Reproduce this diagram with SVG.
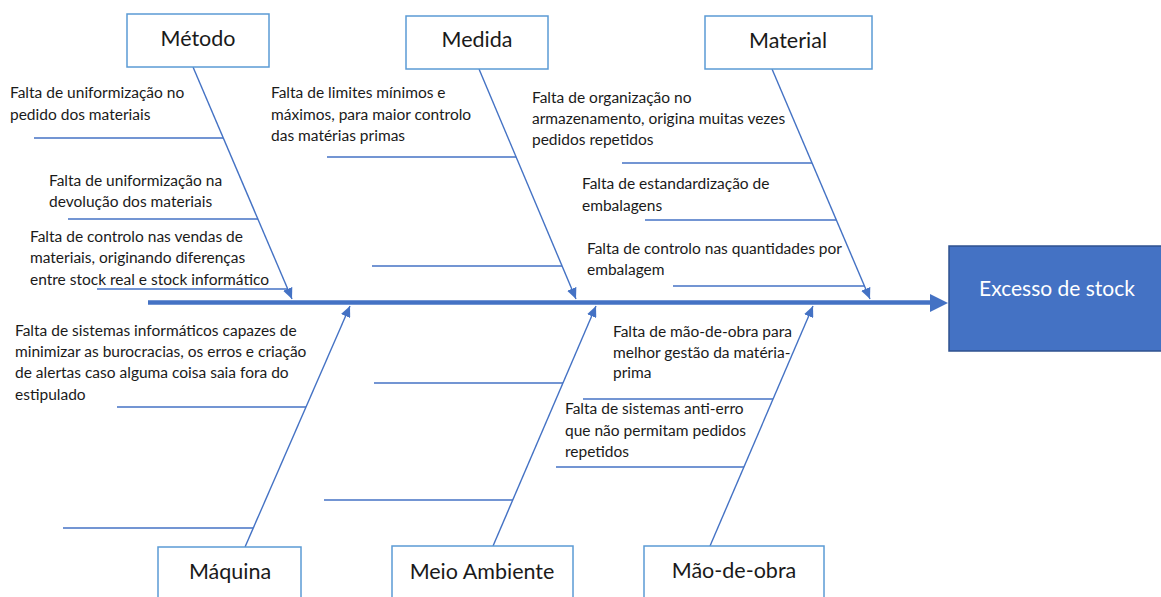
<svg xmlns="http://www.w3.org/2000/svg" width="1161" height="597" viewBox="0 0 1161 597">
<defs>
<marker id="ah" markerUnits="userSpaceOnUse" markerWidth="12" markerHeight="10" refX="11" refY="5" orient="auto" viewBox="0 0 12 10">
<path d="M0,0 L11,5 L0,10 Z" fill="#4472C4"/>
</marker>
</defs>
<style>
.box{fill:#fff;stroke:#5B9BD5;stroke-width:1.5}
.lbl{font-family:Lato,"Liberation Sans",sans-serif;font-size:21.5px;fill:#1a1a1a;text-anchor:middle}
.t{font-family:Lato,"Liberation Sans",sans-serif;font-size:15.5px;fill:#1a1a1a}
.bone{stroke:#4472C4;stroke-width:1.4;fill:none}
.sub{stroke:#4472C4;stroke-width:1.6;fill:none}
</style>
<rect width="1161" height="597" fill="#fff"/>
<g id="connectors">
<line x1="148" y1="302.5" x2="932" y2="302.5" stroke="#4472C4" stroke-width="4.5"/>
<polygon points="930,294 948,303 930,312" fill="#4472C4"/>
<line class="bone" x1="193" y1="67" x2="292" y2="299" marker-end="url(#ah)"/>
<line class="bone" x1="479" y1="69" x2="576" y2="299" marker-end="url(#ah)"/>
<line class="bone" x1="772" y1="69" x2="870" y2="299" marker-end="url(#ah)"/>
<line class="bone" x1="245" y1="547" x2="350" y2="306" marker-end="url(#ah)"/>
<line class="bone" x1="493" y1="546" x2="596" y2="306" marker-end="url(#ah)"/>
<line class="bone" x1="710" y1="546" x2="813" y2="306" marker-end="url(#ah)"/>
<line class="sub" x1="34" y1="138" x2="223" y2="138"/>
<line class="sub" x1="68" y1="219" x2="258" y2="219"/>
<line class="sub" x1="97" y1="289" x2="288" y2="289"/>
<line class="sub" x1="327" y1="157" x2="516" y2="157"/>
<line class="sub" x1="372" y1="266" x2="562" y2="266"/>
<line class="sub" x1="622" y1="163" x2="812" y2="163"/>
<line class="sub" x1="645" y1="220" x2="836" y2="220"/>
<line class="sub" x1="673" y1="286" x2="865" y2="286"/>
<line class="sub" x1="117" y1="407" x2="306" y2="407"/>
<line class="sub" x1="63" y1="528" x2="253" y2="528"/>
<line class="sub" x1="374" y1="383" x2="563" y2="383"/>
<line class="sub" x1="324" y1="500" x2="513" y2="500"/>
<line class="sub" x1="583" y1="399" x2="773" y2="399"/>
<line class="sub" x1="556" y1="467" x2="744" y2="467"/>
</g>
<g id="metodo">
<rect class="box" x="127" y="14" width="142" height="53"/>
<text class="lbl" x="198" y="46">Método</text>
</g>
<g id="medida">
<rect class="box" x="406" y="16" width="142" height="53"/>
<text class="lbl" x="477" y="47">Medida</text>
</g>
<g id="material">
<rect class="box" x="705" y="16" width="167" height="53"/>
<text class="lbl" x="788" y="48">Material</text>
</g>
<g id="maquina">
<rect class="box" x="158" y="547" width="143" height="60"/>
<text class="lbl" x="230" y="579">Máquina</text>
</g>
<g id="meio-ambiente">
<rect class="box" x="392" y="546" width="181" height="60"/>
<text class="lbl" x="482" y="579">Meio Ambiente</text>
</g>
<g id="mao-de-obra">
<rect class="box" x="644" y="546" width="180" height="60"/>
<text class="lbl" x="734" y="578">Mão-de-obra</text>
</g>
<g id="excesso">
<rect x="949" y="246" width="214" height="105" fill="#4472C4" stroke="#2F528F" stroke-width="1.5"/>
<text class="lbl" x="1057" y="296" style="fill:#fff;font-size:21px">Excesso de stock</text>
</g>
<g id="causes-metodo">
<text class="t" x="10" y="98">Falta de uniformização no</text>
<text class="t" x="10" y="120">pedido dos materiais</text>
<text class="t" x="49" y="186">Falta de uniformização na</text>
<text class="t" x="49" y="207">devolução dos materiais</text>
<text class="t" x="30" y="242">Falta de controlo nas vendas de</text>
<text class="t" x="30" y="263">materiais, originando diferenças</text>
<text class="t" x="30" y="285">entre stock real e stock informático</text>
</g>
<g id="causes-medida">
<text class="t" x="271" y="98">Falta de limites mínimos e</text>
<text class="t" x="271" y="120">máximos, para maior controlo</text>
<text class="t" x="271" y="141">das matérias primas</text>
</g>
<g id="causes-material">
<text class="t" x="532" y="103">Falta de organização no</text>
<text class="t" x="532" y="124">armazenamento, origina muitas vezes</text>
<text class="t" x="532" y="145">pedidos repetidos</text>
<text class="t" x="582" y="189">Falta de estandardização de</text>
<text class="t" x="582" y="211">embalagens</text>
<text class="t" x="587" y="254">Falta de controlo nas quantidades por</text>
<text class="t" x="587" y="275">embalagem</text>
</g>
<g id="causes-maquina">
<text class="t" x="15" y="336">Falta de sistemas informáticos capazes de</text>
<text class="t" x="15" y="357">minimizar as burocracias, os erros e criação</text>
<text class="t" x="15" y="378">de alertas caso alguma coisa saia fora do</text>
<text class="t" x="15" y="400">estipulado</text>
</g>
<g id="causes-mao-de-obra">
<text class="t" x="613" y="337">Falta de mão-de-obra para</text>
<text class="t" x="613" y="358">melhor gestão da matéria-</text>
<text class="t" x="613" y="378">prima</text>
<text class="t" x="565" y="414">Falta de sistemas anti-erro</text>
<text class="t" x="565" y="436">que não permitam pedidos</text>
<text class="t" x="565" y="457">repetidos</text>
</g>
</svg>
